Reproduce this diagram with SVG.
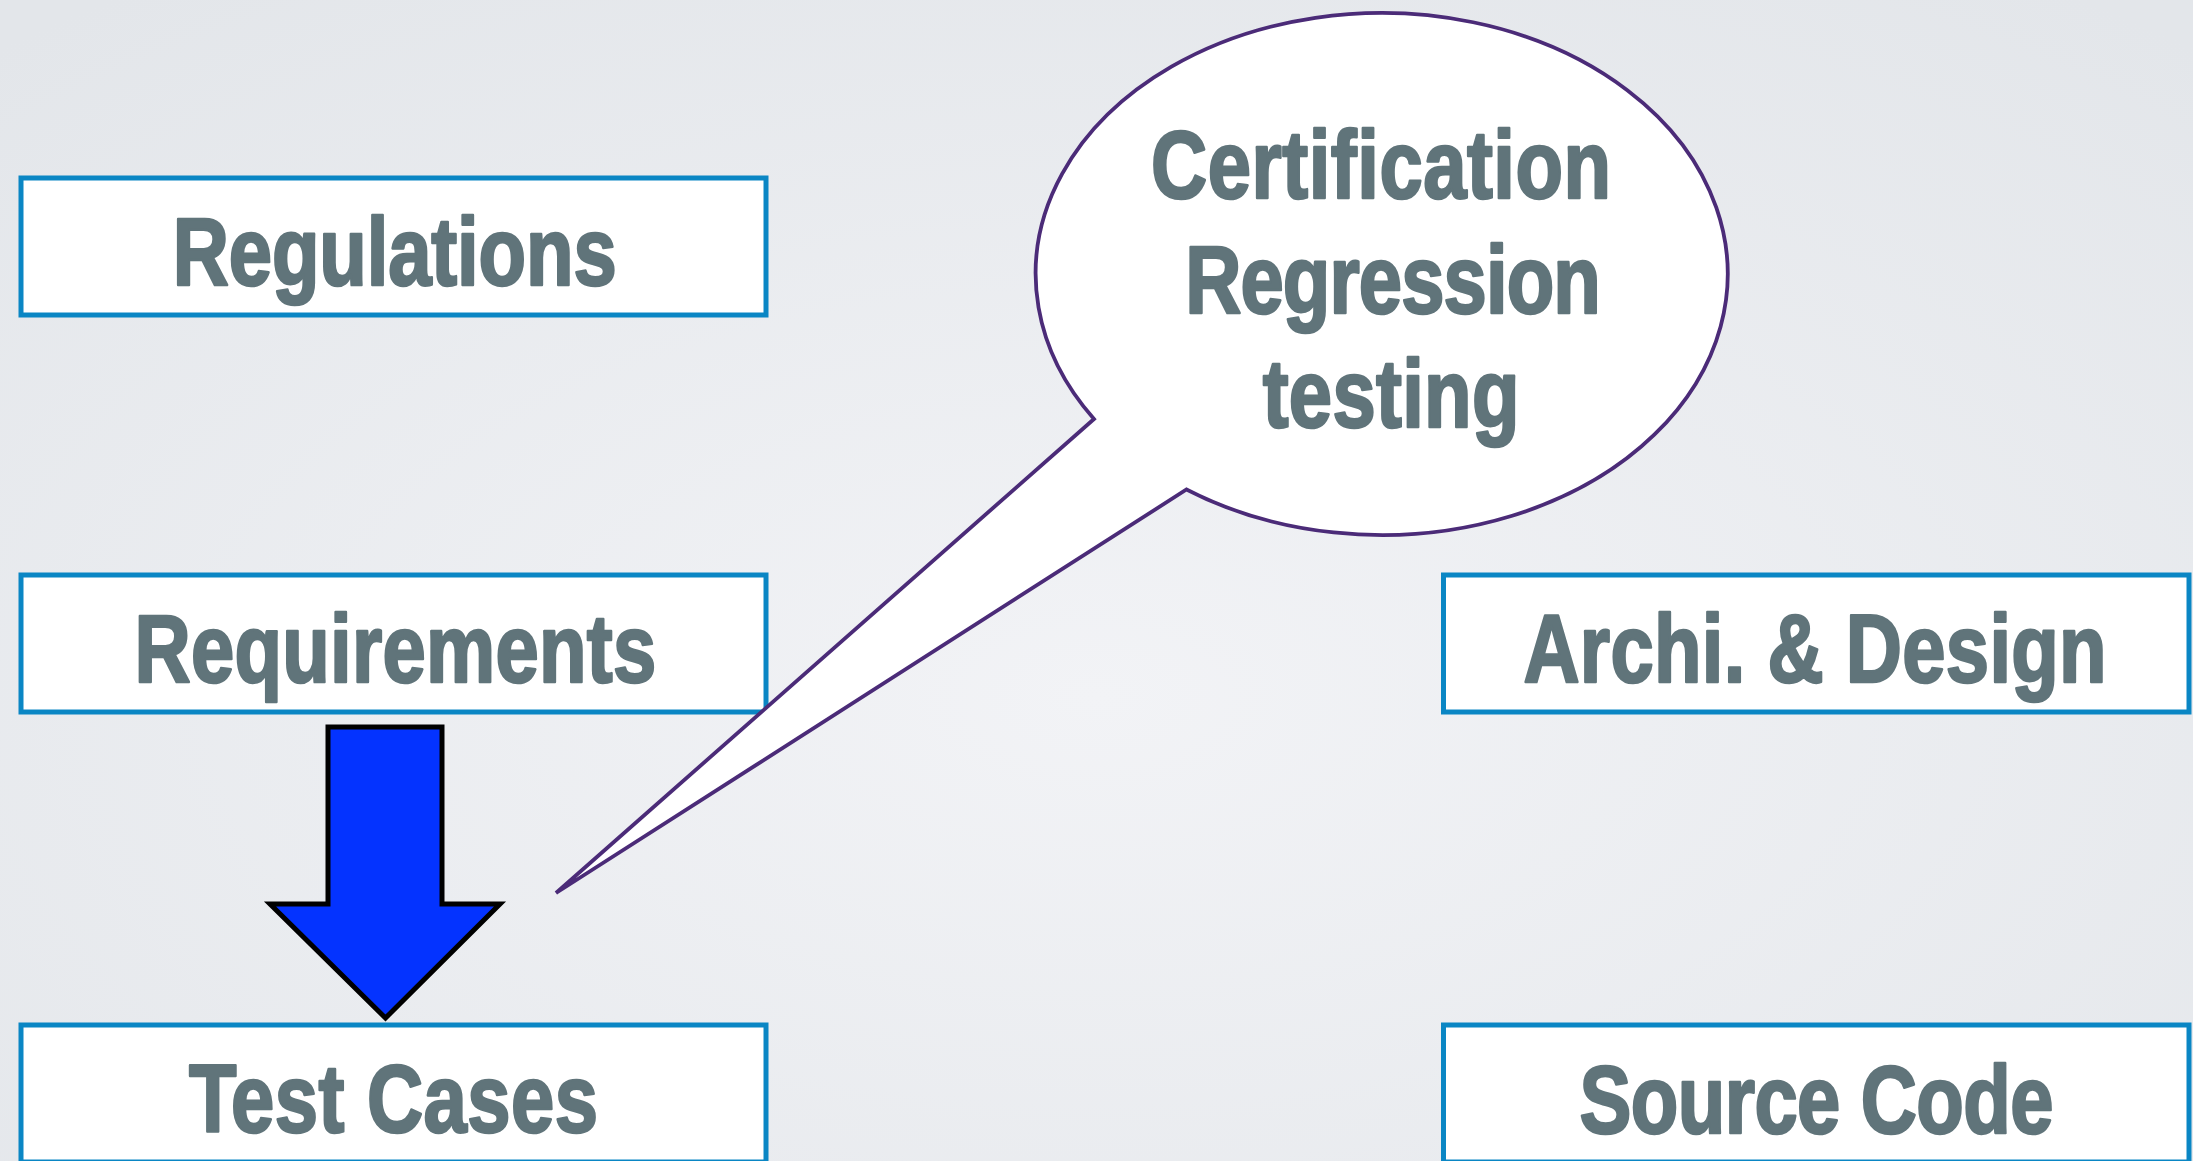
<svg xmlns="http://www.w3.org/2000/svg" width="2193" height="1161" viewBox="0 0 2193 1161">
<defs>
<radialGradient id="bg" cx="0.5" cy="0.6" r="0.75">
<stop offset="0" stop-color="#F2F3F6"/>
<stop offset="1" stop-color="#E3E6EA"/>
</radialGradient>
<style>
.box{fill:#FFFFFF;stroke:#0A86C4;stroke-width:5}
.lbl{font-family:"Liberation Sans",Arial,sans-serif;font-weight:bold;font-size:96px;fill:#60747A;text-anchor:middle;stroke:#60747A;stroke-width:2.6;stroke-linejoin:round}
.bubble{fill:#FFFFFF;stroke:#4B2B78;stroke-width:3.8;stroke-linejoin:miter}
.arrow{fill:#0433FF;stroke:#000000;stroke-width:5;stroke-linejoin:miter}
</style>
</defs>
<rect x="0" y="0" width="2193" height="1161" fill="url(#bg)"/>
<g id="regulations">
<rect class="box" x="21" y="178" width="745" height="137"/>
<text class="lbl" transform="translate(394.7,284.7) scale(0.81,1)" x="0" y="0" textLength="548" lengthAdjust="spacing">Regulations</text>
</g>
<g id="requirements">
<rect class="box" x="21" y="575" width="745" height="137"/>
<text class="lbl" transform="translate(395.4,682) scale(0.81,1)" x="0" y="0" textLength="644" lengthAdjust="spacing">Requirements</text>
</g>
<g id="test-cases">
<rect class="box" x="21" y="1025" width="745" height="137"/>
<text class="lbl" transform="translate(393.4,1132) scale(0.81,1)" x="0" y="0" textLength="505" lengthAdjust="spacing">Test Cases</text>
</g>
<g id="archi-design">
<rect class="box" x="1443.5" y="575" width="745.5" height="137"/>
<text class="lbl" transform="translate(1815,681.7) scale(0.81,1)" x="0" y="0" textLength="720" lengthAdjust="spacing">Archi. &amp; Design</text>
</g>
<g id="source-code">
<rect class="box" x="1443.5" y="1025" width="745.5" height="137"/>
<text class="lbl" transform="translate(1816.5,1132.6) scale(0.81,1)" x="0" y="0" textLength="585" lengthAdjust="spacing">Source Code</text>
</g>
<g id="connectors">
<polygon class="arrow" points="328,727 442,727 442,904 500,904 385.5,1018 270,904 328,904"/>
</g>
<g id="callout">
<path class="bubble" d="M 1094,419 A 346 261 0 1 1 1186.5,489.5 L 556,893 Z"/>
<text class="lbl" transform="translate(1381,197.5) scale(0.81,1)" x="0" y="0" textLength="568" lengthAdjust="spacing">Certification</text>
<text class="lbl" transform="translate(1393,312.5) scale(0.81,1)" x="0" y="0" textLength="513" lengthAdjust="spacing">Regression</text>
<text class="lbl" transform="translate(1391,426.8) scale(0.81,1)" x="0" y="0" textLength="317" lengthAdjust="spacing">testing</text>
</g>
</svg>
